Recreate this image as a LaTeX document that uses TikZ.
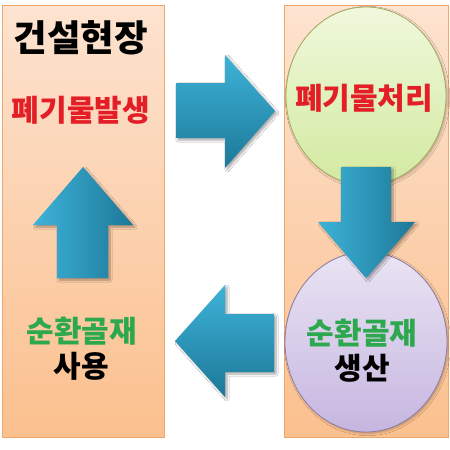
\documentclass[tikz,border=0pt]{standalone}
\usepackage{fontspec}
\setmainfont{Noto Sans CJK KR}
\usetikzlibrary{shadows.blur,shapes.geometric}
\definecolor{peachT}{HTML}{FDE3D0}
\definecolor{peachB}{HTML}{FBC08E}
\definecolor{peachD}{HTML}{EFA66A}
\definecolor{grnT}{HTML}{F0F8DC}
\definecolor{grnB}{HTML}{D2EAA0}
\definecolor{grnD}{HTML}{A8A860}
\definecolor{purT}{HTML}{EAE4F4}
\definecolor{purB}{HTML}{C6B6E0}
\definecolor{purD}{HTML}{8E7CA4}
\definecolor{arL}{HTML}{3DB3D8}
\definecolor{arD}{HTML}{1D7898}
\definecolor{txred}{HTML}{E41E26}
\definecolor{txgreen}{HTML}{2EA84E}
\tikzset{
  panel/.style={draw=peachD, line width=0.8pt, top color=peachT, bottom color=peachB},
  greenball/.style={draw=grnD, line width=0.8pt, top color=grnT, bottom color=grnB},
  purpleball/.style={draw=purD, line width=0.8pt, top color=purT, bottom color=purB},
  vshape/.style={left color=arL, right color=arD, blur shadow={shadow xshift=2pt, shadow yshift=-2pt, shadow blur steps=6, shadow opacity=35}},
  hshape/.style={top color=arL, bottom color=arD, blur shadow={shadow xshift=2pt, shadow yshift=-2pt, shadow blur steps=6, shadow opacity=35}},
  title/.style={font=\bfseries\fontsize{36.5}{40}\selectfont, text=black},
  lbl/.style={font=\bfseries\fontsize{30}{32}\selectfont, inner sep=0pt}
}
\begin{document}
\begin{tikzpicture}[x=1pt,y=-1pt]
\useasboundingbox (0,0) rectangle (450,450);
\fill[white] (0,0) rectangle (450,450);
% panels
\path[panel] (2,5) rectangle (164,437);
\path[panel] (284,5) rectangle (448,437);
% balls
\node[greenball, ellipse, minimum width=160pt, minimum height=178pt, inner sep=0pt,
      blur shadow={shadow xshift=1.5pt, shadow yshift=-1.5pt, shadow opacity=25}] (proc) at (366,96) {};
\node[purpleball, ellipse, minimum width=162pt, minimum height=180pt, inner sep=0pt,
      blur shadow={shadow xshift=1.5pt, shadow yshift=-1.5pt, shadow opacity=25}] (prod) at (366,342) {};
% arrows
\path[hshape] (176,83) -- (225,83) -- (225,55) -- (275,111) -- (225,168) -- (225,138) -- (176,138) -- cycle;
\path[vshape] (341,167) -- (391,167) -- (391,222) -- (415,222) -- (366,278) -- (318,222) -- (341,222) -- cycle;
\path[hshape] (274,314) -- (225,314) -- (225,285) -- (175,341) -- (225,397) -- (225,372) -- (274,372) -- cycle;
\path[vshape] (57,278) -- (57,225) -- (33,225) -- (83,167) -- (133,225) -- (108,225) -- (108,278) -- cycle;
% texts
\node[title, inner sep=0pt] (site) at (81,38) {건설현장};
\node[lbl, text=txred] (gen) at (81,110) {폐기물발생};
\node[lbl, text=txred] (treat) at (364,98) {폐기물처리};
\node[lbl, text=txgreen] (agg1) at (82,331) {순환골재};
\node[lbl, text=black] (use) at (81,366) {사용};
\node[lbl, text=txgreen] (agg2) at (362,333) {순환골재};
\node[lbl, text=black] (make) at (362,368) {생산};
\end{tikzpicture}
\end{document}
